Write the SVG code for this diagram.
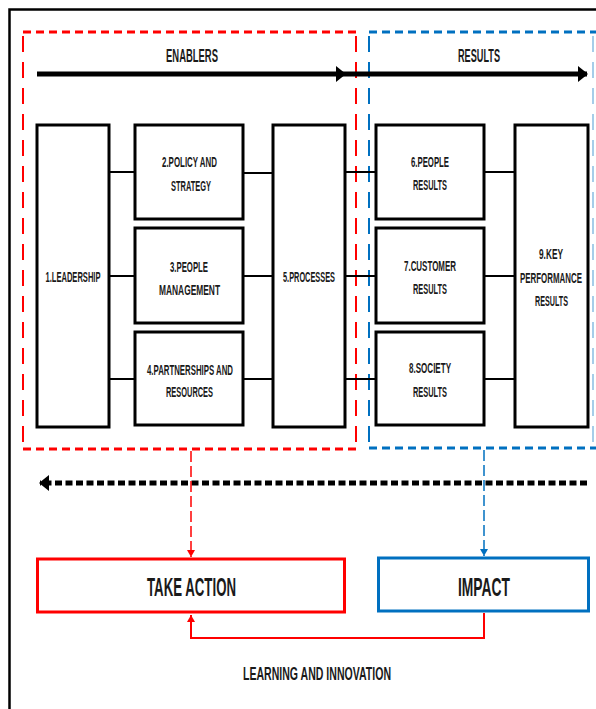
<svg xmlns="http://www.w3.org/2000/svg" width="596" height="709" viewBox="0 0 596 709">
  <style>
    .box { fill: #ffffff; stroke: #000000; stroke-width: 3; }
    .t { font-family: "Liberation Sans", Arial, sans-serif; font-weight: bold; fill: #1a1a1a; text-anchor: middle; }
    .bt { font-size: 14px; }
    .ht { font-size: 18px; }
    .big { font-size: 25px; }
    .conn { stroke: #000000; stroke-width: 2; fill: none; }
    .redh { stroke: #ff0000; stroke-width: 3; stroke-dasharray: 8 5; fill: none; }
    .redv { stroke: #ff0000; stroke-width: 2; stroke-dasharray: 16 10; fill: none; }
    .blueh { stroke: #0070c0; stroke-width: 3; stroke-dasharray: 8 5; fill: none; }
    .bluev { stroke: #0070c0; stroke-width: 2; stroke-dasharray: 16 10; fill: none; }
  </style>
  <defs>
    <marker id="arrBlack" markerWidth="10" markerHeight="16" refX="9" refY="8" orient="auto" markerUnits="userSpaceOnUse">
      <path d="M0,0 L10,8 L0,16 Z" fill="#000000"/>
    </marker>
    <marker id="arrRed" markerWidth="7" markerHeight="8" refX="7" refY="4" orient="auto" markerUnits="userSpaceOnUse">
      <path d="M0,0 L7,4 L0,8 Z" fill="#ff0000"/>
    </marker>
    <marker id="arrBlue" markerWidth="7" markerHeight="8" refX="7" refY="4" orient="auto" markerUnits="userSpaceOnUse">
      <path d="M0,0 L7,4 L0,8 Z" fill="#0070c0"/>
    </marker>
  </defs>

  <rect x="0" y="0" width="596" height="709" fill="#ffffff"/>

  <!-- outer frame -->
  <path d="M9.5,709 L9.5,9.5 L596,9.5" fill="none" stroke="#000000" stroke-width="2.5"/>

  <!-- enablers region (red dashed) -->
  <g id="enablers-region">
    <line class="redh" x1="23" y1="32" x2="356" y2="32"/>
    <line class="redh" x1="23" y1="449" x2="356" y2="449"/>
    <line class="redv" x1="23" y1="36" x2="23" y2="446"/>
    <line class="redv" x1="356" y1="36" x2="356" y2="446"/>
    <text class="t ht" x="192" y="62" textLength="52" lengthAdjust="spacingAndGlyphs">ENABLERS</text>
  </g>

  <!-- results region (blue dashed) -->
  <g id="results-region">
    <line class="blueh" x1="369" y1="32" x2="596" y2="32"/>
    <line class="blueh" x1="369" y1="448" x2="596" y2="448"/>
    <line class="bluev" x1="369" y1="36" x2="369" y2="446"/>
    <line class="bluev" x1="593" y1="36" x2="593" y2="446" stroke-opacity="0.35"/>
    <text class="t ht" x="479" y="62" textLength="42" lengthAdjust="spacingAndGlyphs">RESULTS</text>
  </g>

  <!-- connectors -->
  <g id="connectors">
    <line x1="37" y1="74" x2="345" y2="74" stroke="#000" stroke-width="5" marker-end="url(#arrBlack)"/>
    <line x1="345" y1="74" x2="587" y2="74" stroke="#000" stroke-width="5" marker-end="url(#arrBlack)"/>

    <line class="conn" x1="109" y1="172" x2="135" y2="172"/>
    <line class="conn" x1="109" y1="276" x2="135" y2="276"/>
    <line class="conn" x1="109" y1="379" x2="135" y2="379"/>
    <line class="conn" x1="243" y1="173" x2="273" y2="173"/>
    <line class="conn" x1="243" y1="276" x2="273" y2="276"/>
    <line class="conn" x1="243" y1="379" x2="273" y2="379"/>
    <line class="conn" x1="345" y1="172" x2="376" y2="172"/>
    <line class="conn" x1="345" y1="276" x2="376" y2="276"/>
    <line class="conn" x1="345" y1="379" x2="376" y2="379"/>
    <line class="conn" x1="484" y1="172" x2="515" y2="172"/>
    <line class="conn" x1="484" y1="276" x2="515" y2="276"/>
    <line class="conn" x1="484" y1="379" x2="515" y2="379"/>

    <line x1="587" y1="483" x2="40" y2="483" stroke="#000" stroke-width="5" stroke-dasharray="7 3.5" marker-end="url(#arrBlack)"/>

    <line x1="191" y1="451" x2="191" y2="557" stroke="#ff0000" stroke-width="1.5" stroke-dasharray="11 4" marker-end="url(#arrRed)"/>
    <line x1="484" y1="450" x2="484" y2="556" stroke="#0070c0" stroke-width="1.5" stroke-dasharray="11 4" marker-end="url(#arrBlue)"/>

    <path d="M484,613 L484,638 L191,638 L191,615" fill="none" stroke="#ff0000" stroke-width="2" marker-end="url(#arrRed)"/>
  </g>

  <g id="leadership">
    <rect class="box" x="37" y="125" width="72" height="302"/>
    <text class="t bt" x="73" y="282" textLength="55" lengthAdjust="spacingAndGlyphs">1.LEADERSHIP</text>
  </g>
  <g id="policy-strategy">
    <rect class="box" x="135" y="125" width="108" height="94"/>
    <text class="t bt" x="189.5" y="167" textLength="55" lengthAdjust="spacingAndGlyphs">2.POLICY AND</text>
    <text class="t bt" x="191" y="191" textLength="40" lengthAdjust="spacingAndGlyphs">STRATEGY</text>
  </g>
  <g id="people-management">
    <rect class="box" x="135" y="228" width="108" height="95"/>
    <text class="t bt" x="189" y="272" textLength="38" lengthAdjust="spacingAndGlyphs">3.PEOPLE</text>
    <text class="t bt" x="189.5" y="295" textLength="61" lengthAdjust="spacingAndGlyphs">MANAGEMENT</text>
  </g>
  <g id="partnerships-resources">
    <rect class="box" x="135" y="332" width="108" height="93"/>
    <text class="t bt" x="190" y="375" textLength="86" lengthAdjust="spacingAndGlyphs">4.PARTNERSHIPS AND</text>
    <text class="t bt" x="189.5" y="397" textLength="47" lengthAdjust="spacingAndGlyphs">RESOURCES</text>
  </g>
  <g id="processes">
    <rect class="box" x="273" y="125" width="72" height="302"/>
    <text class="t bt" x="309" y="282" textLength="52" lengthAdjust="spacingAndGlyphs">5.PROCESSES</text>
  </g>
  <g id="people-results">
    <rect class="box" x="376" y="125" width="108" height="94"/>
    <text class="t bt" x="430" y="167" textLength="38" lengthAdjust="spacingAndGlyphs">6.PEOPLE</text>
    <text class="t bt" x="430" y="190" textLength="34" lengthAdjust="spacingAndGlyphs">RESULTS</text>
  </g>
  <g id="customer-results">
    <rect class="box" x="376" y="228" width="108" height="95"/>
    <text class="t bt" x="430" y="271" textLength="52" lengthAdjust="spacingAndGlyphs">7.CUSTOMER</text>
    <text class="t bt" x="430" y="294" textLength="34" lengthAdjust="spacingAndGlyphs">RESULTS</text>
  </g>
  <g id="society-results">
    <rect class="box" x="376" y="332" width="108" height="93"/>
    <text class="t bt" x="430" y="373" textLength="42" lengthAdjust="spacingAndGlyphs">8.SOCIETY</text>
    <text class="t bt" x="430" y="397" textLength="34" lengthAdjust="spacingAndGlyphs">RESULTS</text>
  </g>
  <g id="key-performance-results">
    <rect class="box" x="515" y="125" width="73" height="302"/>
    <text class="t bt" transform="translate(551,259) scale(0.6,1)" x="0" y="0" textLength="40" lengthAdjust="spacingAndGlyphs">9.KEY</text>
    <text class="t bt" transform="translate(551,283) scale(0.56,1)" x="0" y="0" textLength="110.7" lengthAdjust="spacingAndGlyphs">PERFORMANCE</text>
    <text class="t bt" transform="translate(551.5,306) scale(0.5,1)" x="0" y="0" textLength="66" lengthAdjust="spacingAndGlyphs">RESULTS</text>
  </g>

  <g id="take-action">
    <rect x="37.5" y="559" width="307" height="53" fill="#ffffff" stroke="#ff0000" stroke-width="3"/>
    <text class="t big" x="191.5" y="596" textLength="89" lengthAdjust="spacingAndGlyphs">TAKE ACTION</text>
  </g>
  <g id="impact">
    <rect x="378.5" y="558" width="210" height="53" fill="#ffffff" stroke="#0070c0" stroke-width="3"/>
    <text class="t big" x="484" y="596" textLength="52" lengthAdjust="spacingAndGlyphs">IMPACT</text>
  </g>

  <g id="learning-innovation">
    <text class="t ht" x="317" y="680" textLength="148" lengthAdjust="spacingAndGlyphs">LEARNING AND INNOVATION</text>
  </g>
</svg>
